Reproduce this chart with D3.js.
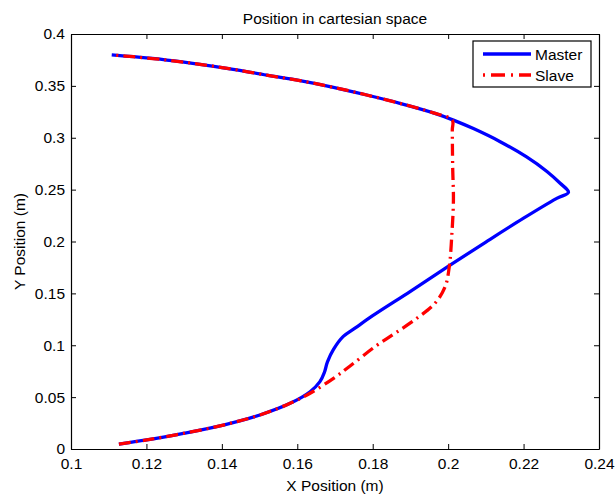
<!DOCTYPE html>
<html>
<head>
<meta charset="utf-8">
<script src="https://cdn.jsdelivr.net/npm/d3@7/dist/d3.min.js"></script>
<style>
  html, body { margin: 0; padding: 0; background: #fff; }
  svg text { font-family: "Liberation Sans", Arial, Helvetica, sans-serif; fill: #000; }
</style>
</head>
<body>
<svg id="chart" width="615" height="496"></svg>
<script>
// Trajectory of the master and slave end effectors (metres)
const masterX = [0.1127, 0.1201, 0.1298, 0.1404, 0.1501, 0.1581, 0.1634, 0.1660, 0.1672, 0.1680, 0.1696, 0.1722, 0.1755, 0.1800, 0.1900, 0.2000, 0.2100, 0.2200, 0.2288, 0.2319, 0.2297, 0.2262, 0.2208, 0.2138, 0.2067, 0.2014, 0.1961, 0.1872, 0.1784, 0.1696, 0.1607, 0.1519, 0.1430, 0.1342, 0.1254, 0.1165, 0.1108];
const masterY = [0.0048, 0.0087, 0.0151, 0.0231, 0.0328, 0.0440, 0.0552, 0.0649, 0.0740, 0.0840, 0.0960, 0.1085, 0.1170, 0.1285, 0.1520, 0.1760, 0.1995, 0.2225, 0.2416, 0.2475, 0.2561, 0.2675, 0.2815, 0.2962, 0.3088, 0.3170, 0.3240, 0.3332, 0.3412, 0.3486, 0.3550, 0.3603, 0.3660, 0.3708, 0.3749, 0.3781, 0.3798];

const slaveX = [0.1127, 0.1201, 0.1298, 0.1404, 0.1501, 0.1581, 0.1634, 0.1696, 0.1740, 0.1806, 0.1859, 0.1917, 0.1965, 0.1992, 0.2003, 0.2010, 0.2014, 0.2012, 0.2011, 0.2011, 0.1961, 0.1872, 0.1784, 0.1696, 0.1607, 0.1519, 0.1430, 0.1342, 0.1254, 0.1165, 0.1108];
const slaveY = [0.0048, 0.0087, 0.0151, 0.0231, 0.0328, 0.0440, 0.0537, 0.0681, 0.0800, 0.0986, 0.1115, 0.1260, 0.1404, 0.1564, 0.1757, 0.2079, 0.2400, 0.2721, 0.3075, 0.3170, 0.3240, 0.3332, 0.3412, 0.3486, 0.3550, 0.3603, 0.3660, 0.3708, 0.3749, 0.3781, 0.3798];

const xTicks = [0.1, 0.12, 0.14, 0.16, 0.18, 0.2, 0.22, 0.24];
const yTicks = [0, 0.05, 0.1, 0.15, 0.2, 0.25, 0.3, 0.35, 0.4];
const seriesNames = ["Master", "Slave"];

const svg = d3.select("#chart");
const margin = { left: 71, right: 16, top: 34, bottom: 47 };
const W = 615, H = 496;
const x = d3.scaleLinear().domain([0.1, 0.24]).range([margin.left, W - margin.right]);
const y = d3.scaleLinear().domain([0, 0.4]).range([H - margin.bottom, margin.top]);
const fmt = d => String(+d.toFixed(3));
const fontSize = 15.5;
const tickLen = 5;

// Axes box with inward ticks on all four sides
const axisG = svg.append("g");
axisG.append("g").attr("transform", `translate(0,${y(0)})`)
  .call(d3.axisBottom(x).tickValues(xTicks).tickFormat(fmt).tickSizeInner(-tickLen).tickSizeOuter(0).tickPadding(9));
axisG.append("g").attr("transform", `translate(0,${y(0.4)})`)
  .call(d3.axisTop(x).tickValues(xTicks).tickFormat("").tickSizeInner(-tickLen).tickSizeOuter(0));
axisG.append("g").attr("transform", `translate(${x(0.1)},0)`)
  .call(d3.axisLeft(y).tickValues(yTicks).tickFormat(fmt).tickSizeInner(-tickLen).tickSizeOuter(0).tickPadding(6));
axisG.append("g").attr("transform", `translate(${x(0.24)},0)`)
  .call(d3.axisRight(y).tickValues(yTicks).tickFormat("").tickSizeInner(-tickLen).tickSizeOuter(0));

axisG.selectAll(".domain").attr("stroke", "#000").attr("stroke-width", 1.2);
axisG.selectAll(".tick line").attr("stroke", "#000").attr("stroke-width", 1);
axisG.selectAll(".tick text").attr("font-size", fontSize).attr("font-family", "Liberation Sans, Arial, sans-serif");

// Data lines
const line = d3.line().x(d => x(d[0])).y(d => y(d[1])).curve(d3.curveCatmullRom.alpha(0.5));
const masterPts = masterX.map((v, i) => [v, masterY[i]]);
const slavePts = slaveX.map((v, i) => [v, slaveY[i]]);

const plot = svg.append("g");
plot.append("path").datum(masterPts).attr("d", line)
  .attr("fill", "none").attr("stroke", "#0000ff").attr("stroke-width", 3.3).attr("stroke-linejoin", "round");
plot.append("path").datum(slavePts).attr("d", line)
  .attr("fill", "none").attr("stroke", "#ff0000").attr("stroke-width", 3.3).attr("stroke-dasharray", "12,5,2,5");

// Title and axis labels
const cx = (x(0.1) + x(0.24)) / 2;
svg.append("text").attr("x", cx).attr("y", 24).attr("text-anchor", "middle")
  .attr("font-size", fontSize).text("Position in cartesian space");
svg.append("text").attr("x", cx).attr("y", 491).attr("text-anchor", "middle")
  .attr("font-size", fontSize).text("X Position (m)");
svg.append("text").attr("transform", `translate(25,${(y(0) + y(0.4)) / 2}) rotate(-90)`).attr("text-anchor", "middle")
  .attr("font-size", fontSize).text("Y Position (m)");

// Legend
const lg = svg.append("g");
lg.append("rect").attr("x", 473).attr("y", 41).attr("width", 118).attr("height", 46)
  .attr("fill", "#fff").attr("stroke", "#000").attr("stroke-width", 1.2);
const styles = [{ c: "#0000ff", dash: null }, { c: "#ff0000", dash: "2,6,14,6" }];
seriesNames.forEach((name, i) => {
  const yy = 54 + i * 21;
  lg.append("line").attr("x1", 483).attr("x2", 531).attr("y1", yy).attr("y2", yy)
    .attr("stroke", styles[i].c).attr("stroke-width", 3.3).attr("stroke-dasharray", styles[i].dash);
  lg.append("text").attr("x", 535).attr("y", yy + 5.5).attr("font-size", fontSize).text(name);
});
</script>
</body>
</html>
